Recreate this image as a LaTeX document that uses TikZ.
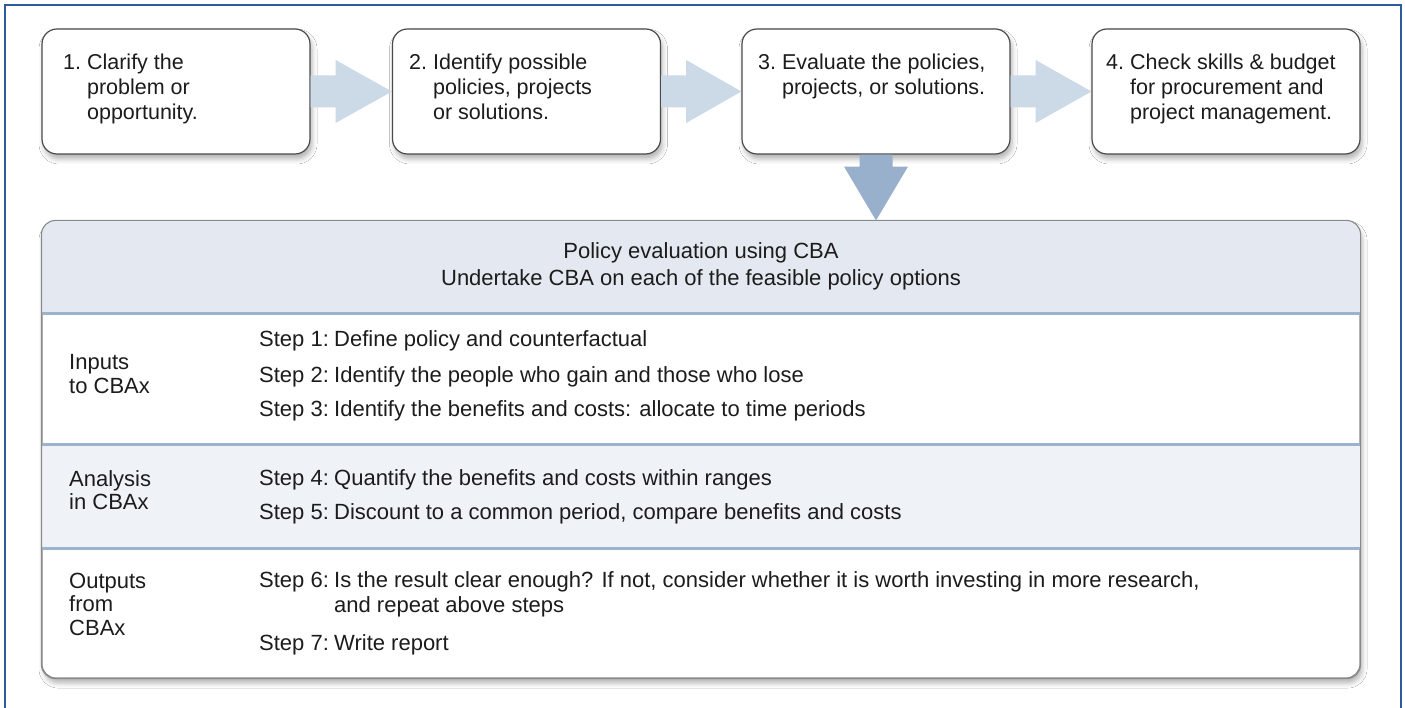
\documentclass[tikz,border=0pt]{standalone}
\usepackage{fontspec}
\setmainfont{Liberation Sans}
\usetikzlibrary{calc,shadows.blur}

\definecolor{framecol}{HTML}{2E5C9A}
\definecolor{boxline}{HTML}{4A4A4A}
\definecolor{bigline}{HTML}{8A8A8A}
\definecolor{arrowlight}{HTML}{CCD9E7}
\definecolor{arrowdark}{HTML}{98B0CC}
\definecolor{headfill}{HTML}{E4E9F1}
\definecolor{bandfill}{HTML}{EFF3F8}
\definecolor{sepline}{HTML}{9DB3CD}
\definecolor{textcol}{HTML}{1C1C1C}

\tikzset{
  stagebox/.style={draw=boxline, line width=1.2pt, fill=white, rounded corners=15pt,
    minimum width=268pt, minimum height=125pt, inner sep=0pt,
    blur shadow={shadow xshift=2pt, shadow yshift=-5pt, shadow blur radius=5pt, shadow opacity=30}},
  panel/.style={draw=bigline, line width=1.1pt, fill=white, rounded corners=14pt,
    minimum width=1318pt, minimum height=457pt, inner sep=0pt,
    blur shadow={shadow xshift=2pt, shadow yshift=-5pt, shadow blur radius=5pt, shadow opacity=30}},
  stagetext/.style={anchor=base west, inner sep=0pt, text=textcol, font=\fontsize{21.5}{25}\selectfont},
  bodytext/.style={anchor=base west, inner sep=0pt, text=textcol, font=\fontsize{22}{26}\selectfont},
  headtext/.style={anchor=base, inner sep=0pt, text=textcol, font=\fontsize{22}{26}\selectfont},
  flowarrow/.style={fill=arrowlight},
  downarrow/.style={fill=arrowdark},
  separator/.style={draw=sepline, line width=2.5pt},
  framestyle/.style={draw=framecol, line width=1.6pt},
}
\newcommand\steplab[1]{\makebox[75pt][l]{#1}}

\begin{document}
\begin{tikzpicture}[x=1pt,y=-1pt]
\useasboundingbox (0,0) rectangle (1405,708);
\fill[white] (0,0) rectangle (1405,708);

% outer frame (open at the bottom)
\draw[framestyle] (5,712) -- (5,5) -- (1401,5) -- (1401,712);

% the four stages
\node[stagebox] (b1) at (176,91.5) {};
\node[stagebox] (b2) at (526.5,91.5) {};
\node[stagebox] (b3) at (876,91.5) {};
\node[stagebox] (b4) at (1226,91.5) {};

\node[stagetext] (t1a) at (63,69.5) {1.\ Clarify the};
\node[stagetext] (t1b) at (63,94.5) {\phantom{1.\ }problem or};
\node[stagetext] (t1c) at (63,119.5) {\phantom{1.\ }opportunity.};

\node[stagetext] (t2a) at (409,69.5) {2.\ Identify possible};
\node[stagetext] (t2b) at (409,94.5) {\phantom{2.\ }policies, projects};
\node[stagetext] (t2c) at (409,119.5) {\phantom{2.\ }or solutions.};

\node[stagetext] (t3a) at (758,69.5) {3.\ Evaluate the policies,};
\node[stagetext] (t3b) at (758,94.5) {\phantom{3.\ }projects, or solutions.};

\node[stagetext] (t4a) at (1106,69.5) {4.\ Check skills \& budget};
\node[stagetext] (t4b) at (1106,94.5) {\phantom{4.\ }for procurement and};
\node[stagetext] (t4c) at (1106,119.5) {\phantom{4.\ }project management.};

% block arrows between stages
\foreach \a/\b in {b1/b2, b2/b3, b3/b4}{
  \fill[flowarrow] ($(\a.east)+(0,-16)$) -- ++(25,0) -- ++(0,-15.5)
    -- (\b.west) -- ($(\a.east)+(25,31.5)$) -- ++(0,-15.5)
    -- ($(\a.east)+(0,16)$) -- cycle;
}

% evaluation panel
\node[panel] (big) at (701,449.5) {};
\begin{scope}
  \clip[rounded corners=14pt] (big.north west) rectangle (big.south east);
  \fill[headfill] (big.north west) rectangle ($(big.north east)+(0,93)$);
  \fill[bandfill] ($(big.north west)+(0,224)$) rectangle ($(big.north east)+(0,328)$);
\end{scope}
\draw[separator] ($(big.north west)+(0,93)$) -- ($(big.north east)+(0,93)$);
\draw[separator] ($(big.north west)+(0,224)$) -- ($(big.north east)+(0,224)$);
\draw[separator] ($(big.north west)+(0,328)$) -- ($(big.north east)+(0,328)$);
\draw[draw=bigline, line width=1.1pt, rounded corners=14pt] (big.north west) rectangle (big.south east);

% arrow from stage 3 down into the panel
\fill[downarrow] ($(b3.south)+(-16.5,0)$) -- ($(b3.south)+(16.5,0)$) -- ++(0,12)
  -- ++(15.5,0) -- (b3.south |- big.north) -- ($(b3.south)+(-32,12)$)
  -- ++(15.5,0) -- cycle;

% panel heading
\node[headtext] (h1) at (701,259) {Policy evaluation using CBA};
\node[headtext] (h2) at (701,286) {Undertake CBA on each of the feasible policy options};

% row labels
\node[bodytext] (in1) at (69,370) {Inputs};
\node[bodytext] (in2) at (69,393) {to CBAx};
\node[bodytext] (an1) at (69,486) {Analysis};
\node[bodytext] (an2) at (69,509) {in CBAx};
\node[bodytext] (out1) at (69,588) {Outputs};
\node[bodytext] (out2) at (69,611) {from};
\node[bodytext] (out3) at (69,635) {CBAx};

% steps
\node[bodytext] (s1) at (259,347) {\steplab{Step 1:}Define policy and counterfactual};
\node[bodytext] (s2) at (259,382) {\steplab{Step 2:}Identify the people who gain and those who lose};
\node[bodytext] (s3) at (259,416) {\steplab{Step 3:}Identify the benefits and costs: allocate to time periods};
\node[bodytext] (s4) at (259,485) {\steplab{Step 4:}Quantify the benefits and costs within ranges};
\node[bodytext] (s5) at (259,519) {\steplab{Step 5:}Discount to a common period, compare benefits and costs};
\node[bodytext] (s6) at (259,587) {\steplab{Step 6:}Is the result clear enough? If not, consider whether it is worth investing in more research,};
\node[bodytext] (s6b) at (259,612) {\steplab{}and repeat above steps};
\node[bodytext] (s7) at (259,650) {\steplab{Step 7:}Write report};
\end{tikzpicture}
\end{document}
